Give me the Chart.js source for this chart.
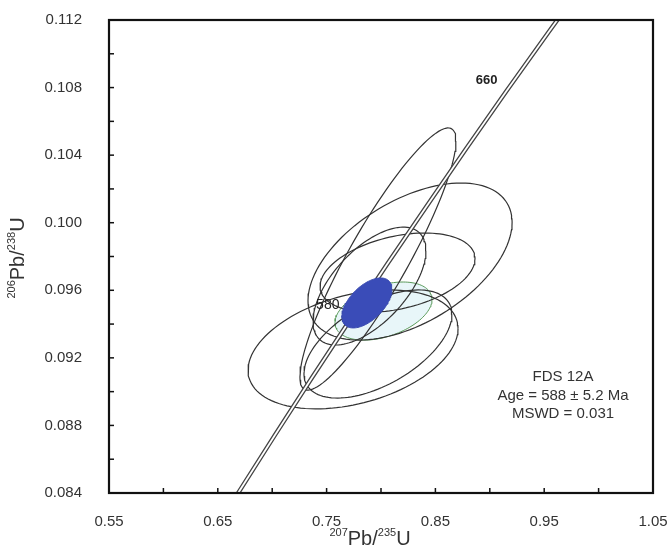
<!DOCTYPE html>
<html>
<head>
<meta charset="utf-8">
<script src="https://cdn.jsdelivr.net/npm/chart.js@4.4.1/dist/chart.umd.min.js"></script>
<style>
  html, body { margin: 0; padding: 0; background: #fff; }
</style>
</head>
<body>
<canvas id="concordiaChart" width="670" height="549"></canvas>
<script>
// concordia curve (207Pb/235U, 206Pb/238U) read at ages in Ma
const concordiaAges = [500, 520, 540, 560, 580, 600, 620, 640, 660, 680, 700];
const concordiaX = [0.6363, 0.6688, 0.7020, 0.7359, 0.7704, 0.8056, 0.8416, 0.8782, 0.9155, 0.9536, 0.9925];
const concordiaY = [0.08065, 0.08401, 0.08738, 0.09076, 0.09414, 0.09754, 0.10095, 0.10438, 0.10781, 0.11125, 0.11470];
const ageLabels = ['580', '660'];

// analysis ellipses: centre, half-widths, error correlation
const spotX   = [0.7972, 0.8267, 0.7894, 0.8152, 0.7743, 0.7972];
const spotY   = [0.09785, 0.0977, 0.09625, 0.09705, 0.0925, 0.09282];
const spotErrX = [0.0717, 0.0938, 0.0519, 0.0712, 0.0965, 0.0680];
const spotErrY = [0.00776, 0.00465, 0.00349, 0.00234, 0.00352, 0.00320];
const spotRho = [0.90, 0.50, 0.60, 0.35, 0.35, 0.55];

// green ellipse and concordia age ellipse
const greenEllipse = [0.8023, 0.09477, 0.0446, 0.00172, 0.40];
const ageEllipse = [0.7871, 0.09525, 0.0230, 0.00148, 0.55];

const sampleText = ['FDS 12A', 'Age = 588 \u00b1 5.2 Ma', 'MSWD = 0.031'];

function ellipsePoints(cx, cy, sx, sy, rho) {
    const pts = [];
    const k = Math.sqrt(1 - rho * rho);
    for (let i = 0; i <= 120; i++) {
        const t = i / 120 * Math.PI * 2;
        pts.push({ x: cx + sx * Math.cos(t), y: cy + sy * (rho * Math.cos(t) + k * Math.sin(t)) });
    }
    return pts;
}

const datasets = [];

datasets.push({
    data: ellipsePoints(...ageEllipse),
    showLine: true, pointRadius: 0,
    borderColor: '#3a4bb0', borderWidth: 1,
    backgroundColor: '#3a4cb8', fill: 'shape', order: 0
});

// concordia drawn as a double line: dark wide stroke, white core
const concordiaPoints = concordiaX.map((x, i) => ({ x, y: concordiaY[i] }));
datasets.push({
    data: concordiaPoints, showLine: true, pointRadius: 0,
    borderColor: '#fff', borderWidth: 1.8, order: 1
});
datasets.push({
    data: concordiaPoints, showLine: true, pointRadius: 0,
    borderColor: '#444', borderWidth: 4.4, order: 2
});

spotX.forEach((x, i) => {
    datasets.push({
        data: ellipsePoints(x, spotY[i], spotErrX[i], spotErrY[i], spotRho[i]),
        showLine: true, pointRadius: 0,
        borderColor: '#333', borderWidth: 1.2, order: 3
    });
});

datasets.push({
    data: ellipsePoints(...greenEllipse),
    showLine: true, pointRadius: 0,
    borderColor: '#5a9a5a', borderWidth: 1,
    backgroundColor: '#e8f6f9', fill: 'shape', order: 4
});

const frameAndText = {
    id: 'frameAndText',
    afterDraw(chart) {
        const ctx = chart.ctx;
        const area = chart.chartArea;
        const xs = chart.scales.x;
        const ys = chart.scales.y;
        ctx.save();

        ctx.strokeStyle = '#111';
        ctx.lineWidth = 1.5;
        xs.ticks.forEach(t => {
            const px = xs.getPixelForValue(t.value);
            ctx.beginPath();
            ctx.moveTo(px, area.bottom);
            ctx.lineTo(px, area.bottom - 5);
            ctx.stroke();
        });
        ys.ticks.forEach(t => {
            const py = ys.getPixelForValue(t.value);
            ctx.beginPath();
            ctx.moveTo(area.left, py);
            ctx.lineTo(area.left + 5, py);
            ctx.stroke();
        });

        ctx.lineWidth = 2.2;
        ctx.strokeRect(area.left, area.top, area.right - area.left, area.bottom - area.top);

        // age labels on concordia
        ctx.fillStyle = '#222';
        ctx.textAlign = 'center';
        ctx.textBaseline = 'middle';
        ageLabels.forEach((lab, i) => {
            const idx = concordiaAges.indexOf(Number(lab));
            const px = xs.getPixelForValue(concordiaX[idx]);
            const py = ys.getPixelForValue(concordiaY[idx]);
            if (i === 0) {
                ctx.font = '14px "Liberation Sans", Arial, sans-serif';
                ctx.fillText(lab, px - 21, py - 17);
            } else {
                ctx.font = 'bold 13px "Liberation Sans", Arial, sans-serif';
                ctx.fillText(lab, px - 20, py - 10);
            }
        });

        ctx.font = '15px "Liberation Sans", Arial, sans-serif';
        ctx.fillStyle = '#333';
        sampleText.forEach((line, i) => {
            ctx.fillText(line, 563, 377 + i * 18.5);
        });

        drawSupText(ctx, [['207', true], ['Pb/', false], ['235', true], ['U', false]], 370, 545);
        ctx.translate(24, 258);
        ctx.rotate(-Math.PI / 2);
        drawSupText(ctx, [['206', true], ['Pb/', false], ['238', true], ['U', false]], 0, 0);
        ctx.restore();
    }
};

function drawSupText(ctx, parts, cx, cy) {
    const bigFont = '20px "Liberation Sans", Arial, sans-serif';
    const smallFont = '11px "Liberation Sans", Arial, sans-serif';
    let width = 0;
    parts.forEach(p => {
        ctx.font = p[1] ? smallFont : bigFont;
        width += ctx.measureText(p[0]).width;
    });
    let x = cx - width / 2;
    ctx.textAlign = 'left';
    ctx.textBaseline = 'alphabetic';
    ctx.fillStyle = '#333';
    parts.forEach(p => {
        ctx.font = p[1] ? smallFont : bigFont;
        ctx.fillText(p[0], x, p[1] ? cy - 9 : cy);
        x += ctx.measureText(p[0]).width;
    });
}

new Chart(document.getElementById('concordiaChart'), {
    type: 'scatter',
    data: { datasets },
    options: {
        responsive: false,
        animation: false,
        layout: { padding: { top: 20, right: 17, left: 0, bottom: 0 } },
        plugins: { legend: { display: false }, tooltip: { enabled: false } },
        scales: {
            x: {
                type: 'linear', min: 0.55, max: 1.05,
                grid: { display: false }, border: { display: false },
                ticks: {
                    stepSize: 0.05, padding: 12, color: '#333',
                    font: { size: 15, family: '"Liberation Sans", Arial, sans-serif' },
                    maxRotation: 0, autoSkip: false,
                    callback: v => Math.round((v - 0.55) / 0.05) % 2 === 0 ? v.toFixed(2) : ''
                },
                afterFit: s => { s.height = 56; s.paddingLeft = 0; s.paddingRight = 0; }
            },
            y: {
                type: 'linear', min: 0.084, max: 0.112,
                grid: { display: false }, border: { display: false },
                ticks: {
                    stepSize: 0.002, padding: 19, color: '#333',
                    font: { size: 15, family: '"Liberation Sans", Arial, sans-serif' },
                    autoSkip: false,
                    callback: v => Math.round((v - 0.084) / 0.002) % 2 === 0 ? v.toFixed(3) : ''
                },
                afterFit: s => { s.width = 109; s.paddingTop = 0; s.paddingBottom = 0; }
            }
        }
    },
    plugins: [frameAndText]
});
</script>
</body>
</html>
